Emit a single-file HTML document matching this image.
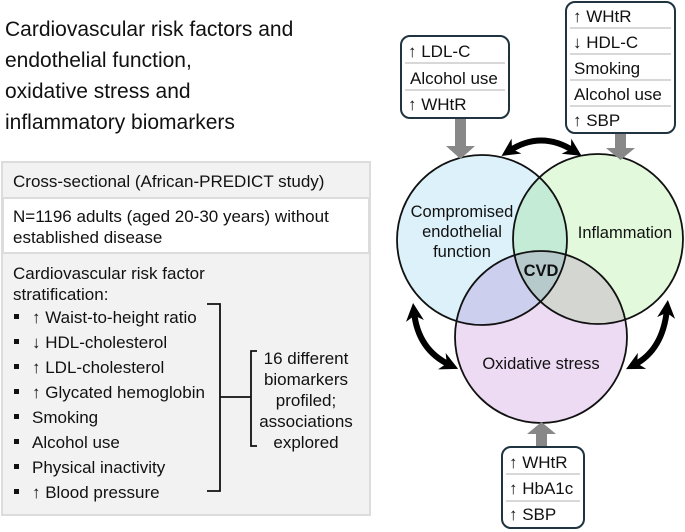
<!DOCTYPE html>
<html><head><meta charset="utf-8"><style>
html,body{margin:0;padding:0;background:#fff;}
svg{display:block;font-family:"Liberation Sans",Arial,sans-serif;}
</style></head><body>
<svg width="685" height="532" viewBox="0 0 685 532" xmlns="http://www.w3.org/2000/svg">
<defs>
<marker id="ah" viewBox="0 0 10 10" refX="5" refY="5" markerWidth="3" markerHeight="3" orient="auto-start-reverse" markerUnits="strokeWidth">
<path d="M0,0 L10,5 L0,10 L3,5 z" fill="#000"/></marker>
</defs>
<g font-size="21" fill="#111">
<text x="5" y="36">Cardiovascular risk factors and</text>
<text x="5" y="67">endothelial function,</text>
<text x="5" y="98">oxidative stress and</text>
<text x="5" y="129">inflammatory biomarkers</text>
</g>
<rect x="2" y="162" width="368" height="353" fill="#f2f2f2" stroke="#dcdcdc" stroke-width="2"/>
<rect x="3" y="198" width="366" height="55" fill="#fff" stroke="#dcdcdc" stroke-width="2"/>
<g fill="#111">
<rect x="14" y="314" width="5" height="5"/><rect x="14" y="339" width="5" height="5"/><rect x="14" y="364" width="5" height="5"/><rect x="14" y="389" width="5" height="5"/><rect x="14" y="414" width="5" height="5"/><rect x="14" y="439" width="5" height="5"/><rect x="14" y="464" width="5" height="5"/><rect x="14" y="489" width="5" height="5"/>
</g>
<g font-size="17" fill="#111">
<text x="13" y="187">Cross-sectional (African-PREDICT study)</text>
<text x="13" y="222">N=1196 adults (aged 20-30 years) without</text>
<text x="13" y="243">established disease</text>
<text x="13" y="279">Cardiovascular risk factor</text>
<text x="13" y="300">stratification:</text>
<text x="32" y="323">↑ Waist-to-height ratio</text>
<text x="32" y="348">↓ HDL-cholesterol</text>
<text x="32" y="373">↑ LDL-cholesterol</text>
<text x="32" y="398">↑ Glycated hemoglobin</text>
<text x="32" y="423">Smoking</text>
<text x="32" y="448">Alcohol use</text>
<text x="32" y="473">Physical inactivity</text>
<text x="32" y="498">↑ Blood pressure</text>
<g text-anchor="middle">
<text x="306" y="364">16 different</text>
<text x="306" y="385">biomarkers</text>
<text x="306" y="406">profiled;</text>
<text x="306" y="427">associations</text>
<text x="306" y="448">explored</text>
</g>
</g>
<path d="M207,304 H220 V491 H207 M220,397 H251 M257,351 H251 V446 H257" fill="none" stroke="#111" stroke-width="1.8"/>
<circle cx="482" cy="240" r="85" fill="#dcf1f9" style="mix-blend-mode:multiply"/>
<circle cx="598" cy="239" r="85" fill="#e3f9dc" style="mix-blend-mode:multiply"/>
<circle cx="541" cy="337" r="86" fill="#eddbf3" style="mix-blend-mode:multiply"/>
<g fill="none" stroke-width="1.8">
<circle cx="482" cy="240" r="85" stroke="#111"/>
<circle cx="598" cy="239" r="85" stroke="#111"/>
<circle cx="541" cy="337" r="86" stroke="#111"/>
</g>
<g font-size="16.5" fill="#111" text-anchor="middle">
<text x="462" y="217">Compromised</text>
<text x="462" y="237">endothelial</text>
<text x="462" y="257">function</text>
<text x="625" y="238">Inflammation</text>
<text x="541" y="369">Oxidative stress</text>
<text x="541" y="276" font-weight="bold">CVD</text>
</g>
<g fill="#888">
<path d="M455,118 H466 V146 H475 L460.5,159 L446,146 H455 z"/>
<path d="M615,133 H626 V148 H635 L620.5,160 L606,148 H615 z"/>
<path d="M536,447 H547 V434 H556 L541.5,422 L527,434 H536 z"/>
</g>
<g fill="none" stroke="#000" stroke-width="6">
<path d="M509,151 Q541,130 574,151" marker-start="url(#ah)" marker-end="url(#ah)"/>
<path d="M414,312 Q418,350 450,365" marker-start="url(#ah)" marker-end="url(#ah)"/>
<path d="M667,309 Q663,350 634,365" marker-start="url(#ah)" marker-end="url(#ah)"/>
</g>
<g fill="#fff" stroke="#1f3340" stroke-width="2">
<rect x="401" y="36" width="108" height="82" rx="9"/>
<rect x="566" y="2" width="109" height="131" rx="9"/>
<rect x="502" y="447" width="82" height="81" rx="9"/>
</g>
<g stroke="#ccc" stroke-width="1.5">
<path d="M405,63 H505 M405,90 H505"/>
<path d="M570,28 H671 M570,54 H671 M570,80 H671 M570,106 H671"/>
<path d="M506,474 H580 M506,501 H580"/>
</g>
<g font-size="17" fill="#111">
<text x="408" y="57">↑ LDL-C</text>
<text x="410" y="84">Alcohol use</text>
<text x="408" y="110">↑ WHtR</text>
<text x="573" y="22">↑ WHtR</text>
<text x="573" y="48">↓ HDL-C</text>
<text x="574" y="74">Smoking</text>
<text x="574" y="100">Alcohol use</text>
<text x="573" y="126">↑ SBP</text>
<text x="509" y="468">↑ WHtR</text>
<text x="509" y="494">↑ HbA1c</text>
<text x="509" y="520">↑ SBP</text>
</g>
</svg>
</body></html>
